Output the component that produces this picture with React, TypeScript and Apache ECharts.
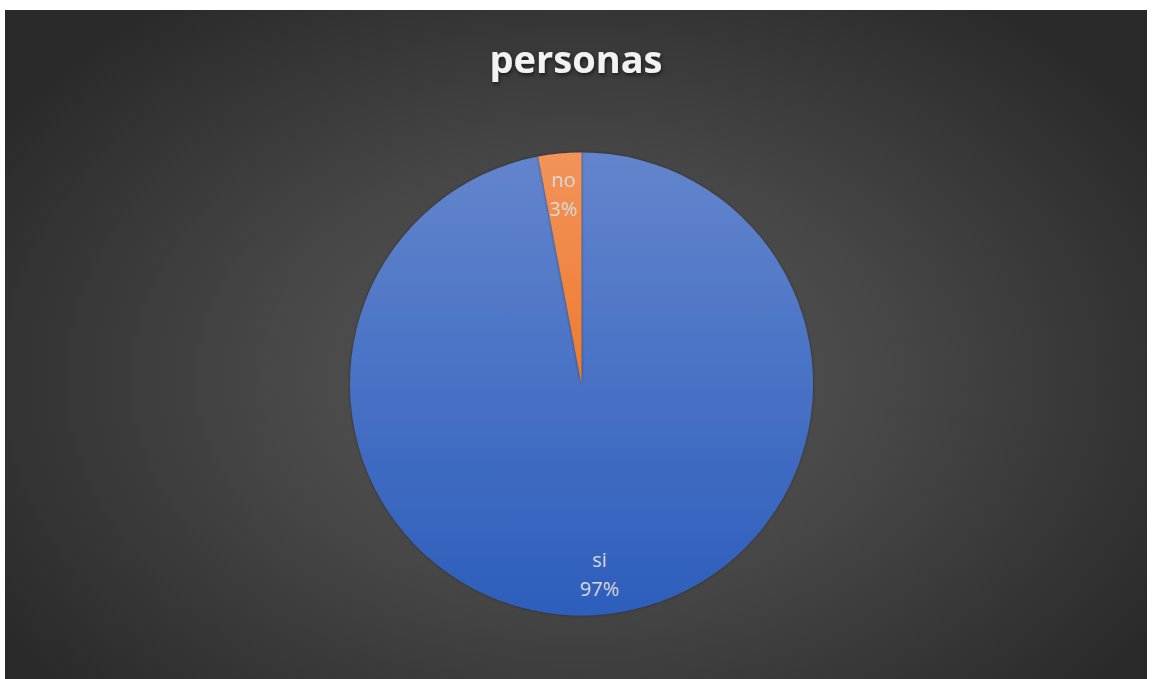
import React, { useEffect, useRef } from "react";
import * as echarts from "echarts";

const categories = ["si", "no"];
const values = [97, 3];
const titleText = "personas";

export default function App() {
  const ref = useRef<HTMLDivElement>(null);
  useEffect(() => {
    document.body.style.margin = "0";
    const chart = echarts.init(ref.current!, null, { renderer: "svg" });
    const data = categories.map((name, i) => ({ name, value: values[i] }));
    const colors = [
      new echarts.graphic.LinearGradient(0, 0, 0, 1, [
        { offset: 0, color: "#6385cd" },
        { offset: 1, color: "#2d5ebc" },
      ]),
      new echarts.graphic.LinearGradient(0, 0, 0, 1, [
        { offset: 0, color: "#f3935a" },
        { offset: 1, color: "#ed7b2f" },
      ]),
    ];
    chart.setOption({
      animation: false,
      backgroundColor: "transparent",
      title: {
        text: titleText,
        left: "center",
        top: 24,
        textStyle: {
          color: "#f2f2f2",
          fontFamily: "Open Sans",
          fontWeight: "bold",
          fontSize: 38,
          textShadowColor: "rgba(0,0,0,0.6)",
          textShadowBlur: 4,
          textShadowOffsetX: 1,
          textShadowOffsetY: 2,
        },
      },
      series: [
        {
          type: "pie",
          center: [576.5, 374],
          radius: [0, 231.5],
          startAngle: 90,
          clockwise: true,
          data,
          label: { show: false },
          labelLine: { show: false },
          itemStyle: {
            color: (p: any) => colors[p.dataIndex],
            borderWidth: 0,
            shadowColor: "rgba(0,0,0,0.4)",
            shadowBlur: 3,
          },
          emphasis: { disabled: true },
          silent: true,
        },
        {
          type: "pie",
          center: [576.5, 374],
          radius: [145, 231],
          startAngle: 90,
          clockwise: true,
          data,
          silent: true,
          itemStyle: { color: "transparent" },
          emphasis: { disabled: true },
          labelLine: { show: false },
          label: {
            show: true,
            position: "inside",
            formatter: "{b}\n{d}%",
            color: "#d9d9d9",
            fontFamily: "Open Sans",
            fontSize: 20,
            lineHeight: 29,
          },
        },
      ],
    });
    return () => chart.dispose();
  }, []);
  return (
    <div style={{ position: "fixed", left: 0, top: 0, width: 1152, height: 679, background: "#ffffff" }}>
      <div
        ref={ref}
        style={{
          position: "absolute",
          left: 5,
          top: 10,
          width: 1142,
          height: 669,
          background: "radial-gradient(ellipse 60% 70% at 50% 55%, #595959 0%, #474747 45%, #2a2a2a 100%)",
        }}
      />
    </div>
  );
}
